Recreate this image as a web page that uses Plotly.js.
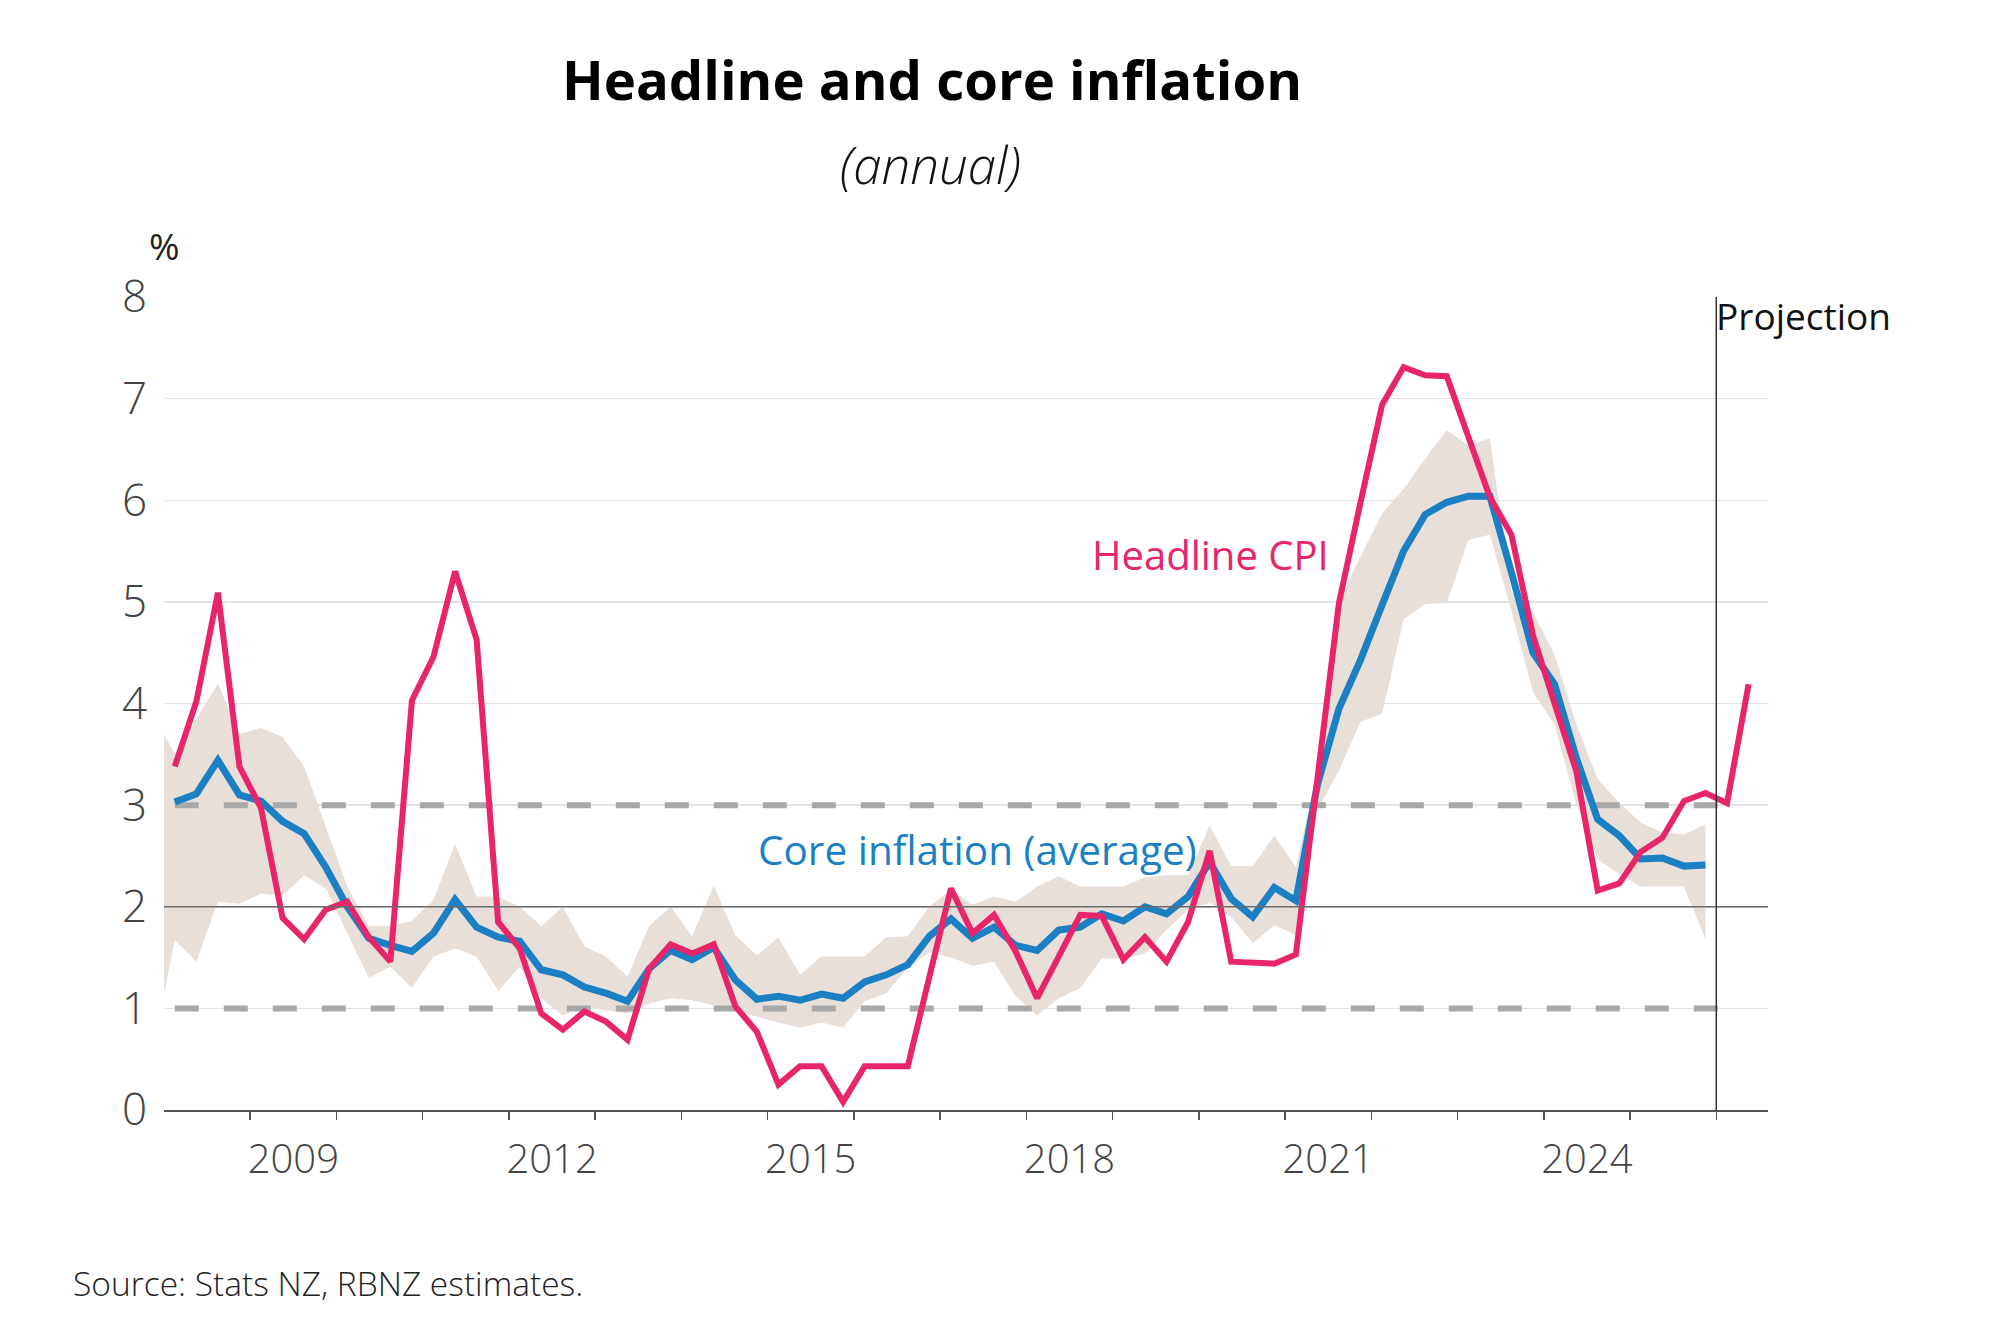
<!DOCTYPE html>
<html>
<head>
<meta charset="utf-8">
<script src="https://cdn.plot.ly/plotly-3.0.1.min.js"></script>
<style>html,body{margin:0;padding:0;background:#fff;}#chart{width:2010px;height:1340px;}</style>
</head>
<body>
<div id="chart"></div>
<script>
// ---- Data (annual %, quarterly) ----
const headlineStart = '2008Q1';
const headlineCPI = [
  3.38, 4.02, 5.09, 3.38,   // 2008
  2.97, 1.89, 1.68, 1.97,   // 2009
  2.05, 1.70, 1.46, 4.03,   // 2010
  4.46, 5.30, 4.63, 1.85,   // 2011
  1.59, 0.95, 0.79, 0.97,   // 2012
  0.87, 0.69, 1.39, 1.63,   // 2013
  1.54, 1.63, 1.02, 0.77,   // 2014
  0.25, 0.43, 0.43, 0.08,   // 2015
  0.43, 0.43, 0.43, 1.31,   // 2016
  2.18, 1.74, 1.92, 1.56,   // 2017
  1.10, 1.51, 1.92, 1.91,   // 2018
  1.48, 1.70, 1.46, 1.85,   // 2019
  2.55, 1.46, 1.45, 1.44,   // 2020
  1.53, 3.31, 4.99, 5.98,   // 2021
  6.94, 7.31, 7.23, 7.22,   // 2022
  6.62, 6.03, 5.66, 4.67,   // 2023
  4.00, 3.34, 2.16, 2.23,   // 2024
  2.54, 2.68, 3.04, 3.12,   // 2025
  3.02, 4.19                // 2026
];
const coreStart = '2008Q1';
const coreInflation = [
  3.03, 3.11, 3.44, 3.10,
  3.04, 2.84, 2.72, 2.39,
  2.00, 1.69, 1.62, 1.56,
  1.74, 2.07, 1.80, 1.70,
  1.66, 1.38, 1.33, 1.21,
  1.15, 1.07, 1.39, 1.57,
  1.48, 1.60, 1.28, 1.09,
  1.12, 1.08, 1.14, 1.10,
  1.26, 1.33, 1.43, 1.71,
  1.88, 1.69, 1.80, 1.62,
  1.57, 1.77, 1.80, 1.93,
  1.86, 2.00, 1.93, 2.10,
  2.44, 2.08, 1.90, 2.19,
  2.06, 3.20, 3.95, 4.43,
  4.97, 5.50, 5.86, 5.98,
  6.04, 6.04, 5.29, 4.50,
  4.19, 3.47, 2.86, 2.70,
  2.47, 2.48, 2.40, 2.41
];
const rangeStart = '2007Q4';
const coreRangeHigh = [
  3.90,
  3.50, 3.85, 4.20, 3.70,
  3.76, 3.67, 3.38, 2.79,
  2.20, 1.81, 1.81, 1.86,
  2.07, 2.62, 2.10, 2.10,
  2.00, 1.81, 2.00, 1.61,
  1.51, 1.31, 1.81, 2.00,
  1.71, 2.21, 1.72, 1.52,
  1.70, 1.33, 1.51, 1.51,
  1.51, 1.70, 1.71, 2.00,
  2.17, 2.02, 2.10, 2.05,
  2.20, 2.30, 2.20, 2.20,
  2.20, 2.29, 2.31, 2.31,
  2.80, 2.40, 2.40, 2.70,
  2.39, 3.35, 5.00, 5.45,
  5.87, 6.11, 6.41, 6.69,
  6.54, 6.61, 5.10, 4.90,
  4.48, 3.80, 3.26, 3.02,
  2.83, 2.73, 2.71, 2.81
];
const coreRangeLow = [
  0.63,
  1.67, 1.46, 2.05, 2.03,
  2.13, 2.11, 2.31, 2.18,
  1.74, 1.30, 1.41, 1.20,
  1.51, 1.59, 1.51, 1.17,
  1.41, 1.10, 0.93, 1.02,
  0.98, 0.95, 1.05, 1.10,
  1.08, 1.03, 0.97, 0.92,
  0.86, 0.81, 0.86, 0.81,
  1.07, 1.15, 1.40, 1.55,
  1.50, 1.42, 1.46, 1.12,
  0.93, 1.10, 1.20, 1.49,
  1.49, 1.54, 1.77, 1.97,
  2.04, 1.90, 1.64, 1.82,
  1.72, 2.95, 3.34, 3.82,
  3.90, 4.83, 4.98, 4.99,
  5.61, 5.66, 4.91, 4.11,
  3.79, 3.02, 2.47, 2.32,
  2.20, 2.20, 2.20, 1.68
];
const targetStart = '2008Q1';
const targetEnd = '2026Q1';
const targetLow = 1;
const targetHigh = 3;
const targetMid = 2;
const projectionStart = 2026;
const yearLabels = ['2009', '2012', '2015', '2018', '2021', '2024'];
const yTicks = [0, 1, 2, 3, 4, 5, 6, 7, 8];
const xRange = [2008, 2026.6];

// ---- helpers: quarter label -> position at mid-quarter ----
function qPos(label) {
  const y = parseInt(label.slice(0, 4), 10);
  const q = parseInt(label.slice(5), 10);
  return y + (q - 1) * 0.25 + 0.125;
}
function seriesX(startLabel, n) {
  const p0 = qPos(startLabel);
  const xs = [];
  for (let i = 0; i < n; i++) xs.push(p0 + 0.25 * i);
  return xs;
}
const nTarget = Math.round((qPos(targetEnd) - qPos(targetStart)) / 0.25) + 1;
const targetX = seriesX(targetStart, nTarget);

const FONT = 'Open Sans, Noto Sans, sans-serif';
const PINK = '#e8256a';
const BLUE = '#1b7fc3';
const BAND = '#e9dfd9';

const traces = [
  { x: seriesX(rangeStart, coreRangeLow.length), y: coreRangeLow, type: 'scatter', mode: 'lines',
    line: { width: 0, color: BAND }, hoverinfo: 'skip', showlegend: false },
  { x: seriesX(rangeStart, coreRangeHigh.length), y: coreRangeHigh, type: 'scatter', mode: 'lines',
    line: { width: 0, color: BAND }, fill: 'tonexty', fillcolor: BAND, hoverinfo: 'skip', showlegend: false },
  { x: xRange, y: xRange.map(() => targetMid), xaxis: 'x2', type: 'scatter', mode: 'lines',
    line: { width: 1.6, color: '#6b6b6b' }, hoverinfo: 'skip', showlegend: false },
  { x: targetX, y: targetX.map(() => targetLow), type: 'scatter', mode: 'lines',
    line: { width: 6, color: '#a8a8a8', dash: '24px,25px' }, hoverinfo: 'skip', showlegend: false },
  { x: targetX, y: targetX.map(() => targetHigh), type: 'scatter', mode: 'lines',
    line: { width: 6, color: '#a8a8a8', dash: '24px,25px' }, hoverinfo: 'skip', showlegend: false },
  { x: seriesX(coreStart, coreInflation.length), y: coreInflation, type: 'scatter', mode: 'lines',
    name: 'Core inflation (average)', line: { width: 7, color: BLUE }, showlegend: false },
  { x: seriesX(headlineStart, headlineCPI.length), y: headlineCPI, type: 'scatter', mode: 'lines',
    name: 'Headline CPI', line: { width: 6, color: PINK }, showlegend: false }
];

const yearTickVals = [];
for (let y = Math.ceil(xRange[0] + 0.01); y <= Math.floor(xRange[1]); y++) yearTickVals.push(y);

const layout = {
  width: 2010, height: 1340,
  margin: { l: 164, r: 242, t: 297, b: 230 },
  paper_bgcolor: '#fff', plot_bgcolor: '#fff',
  font: { family: FONT, color: '#222' },
  showlegend: false,
  title: {
    text: '<b>Headline and core inflation</b>',
    font: { family: FONT, size: 54.5, color: '#000' },
    x: 932 / 2010, xanchor: 'center', xref: 'container',
    y: 1 - 81 / 1340, yanchor: 'middle', yref: 'container'
  },
  xaxis: {
    range: xRange, fixedrange: true,
    tickvals: yearTickVals, ticktext: yearTickVals.map(() => ''),
    ticks: 'outside', ticklen: 8, tickwidth: 1.5, tickcolor: '#555',
    showline: true, linecolor: '#555', linewidth: 2,
    showgrid: false, zeroline: false
  },
  xaxis2: {
    overlaying: 'x', anchor: 'y', side: 'bottom', range: xRange, fixedrange: true,
    tickvals: yearLabels.map(s => parseInt(s, 10) + 0.5), ticktext: yearLabels,
    ticks: '', showline: false, showgrid: false, zeroline: false,
    tickfont: { family: FONT, size: 40, color: '#444', weight: 300 },
    ticklabelstandoff: 22
  },
  yaxis: {
    range: [0, 8], fixedrange: true, tickvals: yTicks,
    ticks: '', showline: false, zeroline: false,
    showgrid: true, gridcolor: '#e3e3e3', gridwidth: 1.5,
    tickfont: { family: FONT, size: 44, color: '#444', weight: 300 },
    ticklabelstandoff: 16
  },
  shapes: [
    { type: 'line', xref: 'x', yref: 'paper', x0: projectionStart, x1: projectionStart, y0: 0, y1: 1,
      line: { color: '#333', width: 1.5 }, layer: 'above' }
  ],
  annotations: [
    { text: '<i>(annual)</i>', xref: 'paper', yref: 'paper', x: (930 - 164) / 1604, y: (1110 - 164) / 813,
      xanchor: 'center', yanchor: 'middle', showarrow: false,
      font: { family: FONT, size: 51, color: '#111', weight: 300 } },
    { text: '%', xref: 'paper', yref: 'paper', x: 0, y: (1110 - 246) / 813,
      xanchor: 'center', yanchor: 'middle', showarrow: false,
      font: { family: FONT, size: 37, color: '#222' } },
    { text: 'Projection', xref: 'x', yref: 'paper', x: projectionStart, y: (1110 - 315) / 813,
      xanchor: 'left', yanchor: 'middle', xshift: -2, showarrow: false,
      font: { family: FONT, size: 37, color: '#111' } },
    { text: 'Headline CPI', xref: 'x', yref: 'y', x: 2018.74, y: 5.47,
      xanchor: 'left', yanchor: 'middle', showarrow: false,
      font: { family: FONT, size: 40, color: PINK } },
    { text: 'Core inflation (average)', xref: 'x', yref: 'y', x: 2014.86, y: 2.56,
      xanchor: 'left', yanchor: 'middle', showarrow: false,
      font: { family: FONT, size: 40.5, color: BLUE } },
    { text: 'Source: Stats NZ, RBNZ estimates.', xref: 'paper', yref: 'paper', x: (71 - 164) / 1604, y: (1110 - 1283) / 813,
      xanchor: 'left', yanchor: 'middle', showarrow: false,
      font: { family: FONT, size: 33.5, color: '#222', weight: 300 } }
  ]
};

Plotly.newPlot('chart', traces, layout, { staticPlot: true, displayModeBar: false });
</script>
</body>
</html>
